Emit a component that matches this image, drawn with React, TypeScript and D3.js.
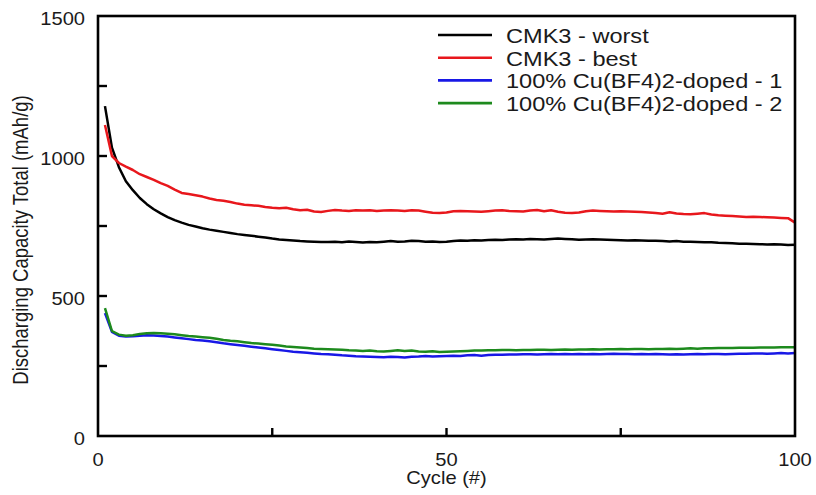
import React from "react";
import * as d3 from "d3";

const cycles: number[] = Array.from({ length: 100 }, (_, i) => i + 1);

const cmk3Worst: number[] = [
  1178, 1030, 960, 910, 878, 850, 828, 810, 795, 782,
  771, 762, 754, 748, 742, 737, 733, 729, 725, 721,
  718, 715, 712, 709, 705, 702, 700, 698, 696, 695,
  694, 693, 693, 694, 692, 695, 693, 691, 693, 692,
  694, 696, 694, 695, 697, 696, 694, 695, 693, 694,
  696, 698, 697, 699, 698, 700, 701, 700, 702, 703,
  702, 704, 703, 702, 704, 705, 704, 703, 701, 702,
  703, 702, 701, 700, 699, 698, 699, 698, 697, 697,
  696, 695, 696, 694, 694, 693, 692, 692, 690, 689,
  688, 687, 687, 686, 685, 684, 685, 684, 682, 683,
];

const cmk3Best: number[] = [
  1111, 1000, 975, 962, 950, 935, 925, 915, 903, 893,
  880, 868, 864, 860, 855, 848, 843, 840, 836, 830,
  826, 824, 822, 818, 815, 813, 815, 810, 806, 808,
  802, 800, 804, 807, 805, 804, 806, 805, 806, 804,
  805, 806, 805, 804, 806, 805, 801, 797, 796, 798,
  803, 804, 803, 802, 801, 803, 805, 806, 804, 803,
  802, 805, 807, 803, 806, 801, 797, 796, 798, 803,
  805, 804, 803, 802, 803, 802, 801, 800, 798, 796,
  794, 799, 795, 793, 792, 794, 796, 791, 788, 787,
  786, 784, 782, 783, 782, 781, 780, 779, 778, 762,
];

const doped1: number[] = [
  439, 372, 358, 355, 356, 358, 360, 359, 357, 355,
  352, 349, 346, 343, 341, 338, 335, 331, 328, 325,
  322, 319, 316, 313, 310, 307, 304, 301, 299, 297,
  295, 293, 292, 290, 288, 287, 285, 284, 283, 282,
  281, 283, 282, 280, 283, 284, 286, 284, 285, 286,
  287, 286, 288, 289, 287, 289, 290, 290, 291, 291,
  292, 292, 291, 292, 293, 292, 293, 292, 293, 292,
  293, 292, 293, 294, 293, 293, 292, 293, 292, 293,
  292, 291, 292, 291, 292, 293, 292, 293, 293, 292,
  293, 294, 294, 295, 295, 294, 295, 296, 295, 296,
];

const doped2: number[] = [
  457, 375, 362, 358, 360, 364, 367, 368, 367, 365,
  363, 360, 357, 355, 353, 351, 347, 343, 340, 338,
  335, 332, 330, 328, 326, 323, 320, 318, 316, 314,
  312, 311, 310, 309, 308, 306, 305, 304, 305, 303,
  302, 304, 306, 304, 305, 302, 301, 303, 300, 301,
  302, 303, 304, 305, 305, 306, 306, 307, 307, 306,
  307, 307, 308, 308, 307, 308, 309, 308, 309, 309,
  310, 309, 310, 310, 311, 310, 311, 311, 310, 311,
  311, 312, 311, 312, 313, 312, 313, 313, 314, 314,
  314, 315, 315, 315, 316, 316, 316, 317, 317, 317,
];

const seriesNames: string[] = [
  "CMK3 - worst",
  "CMK3 - best",
  "100% Cu(BF4)2-doped - 1",
  "100% Cu(BF4)2-doped - 2",
];
const seriesValues: number[][] = [cmk3Worst, cmk3Best, doped1, doped2];
const seriesColors: string[] = ["#000000", "#e8171c", "#1818e6", "#1d8a1d"];

const yTickLabels: number[] = [0, 500, 1000, 1500];
const yMinorTicks: number[] = [250, 500, 750, 1000, 1250];
const xTickLabels: number[] = [0, 50, 100];
const xMinorTicks: number[] = [25, 50, 75];

const W = 816;
const H = 495;
const M = { left: 98, right: 21, top: 16, bottom: 59 };
const SX = 1.15;
const FONT = "'Liberation Sans', Arial, Helvetica, sans-serif";
const TXT = "#1a1a1a";

export default function App() {
  const x = d3.scaleLinear().domain([0, 100]).range([M.left, W - M.right]);
  const y = d3.scaleLinear().domain([0, 1500]).range([H - M.bottom, M.top]);
  const line = d3
    .line<number>()
    .x((_, i) => x(cycles[i]))
    .y((d) => y(d));

  const x0 = x(0), x1 = x(100), y0 = y(0), y1 = y(1500);

  return (
    <svg width={W} height={H} style={{ position: "absolute", left: 0, top: 0, background: "#fff" }}>
      <rect x={0} y={0} width={W} height={H} fill="#fff" />
      {seriesValues.map((vals, k) => (
        <path
          key={k}
          d={line(vals) || ""}
          fill="none"
          stroke={seriesColors[k]}
          strokeWidth={2.5}
          strokeLinejoin="round"
        />
      ))}
      <rect x={x0} y={y1} width={x1 - x0} height={y0 - y1} fill="none" stroke="#000" strokeWidth={2.6} />
      {yMinorTicks.map((t) => (
        <line key={"yt" + t} x1={x0} x2={x0 + 9} y1={y(t)} y2={y(t)} stroke="#000" strokeWidth={2.4} />
      ))}
      {xMinorTicks.map((t) => (
        <line key={"xt" + t} x1={x(t)} x2={x(t)} y1={y0} y2={y0 - 8} stroke="#000" strokeWidth={2.4} />
      ))}
      {yTickLabels.map((t) => (
        <text
          key={"yl" + t}
          transform={`translate(${x0 - 13},${y(t) + 8.5}) scale(${SX},1)`}
          textAnchor="end"
          fontFamily={FONT}
          fontSize={17.5}
          fill={TXT}
        >
          {t}
        </text>
      ))}
      {xTickLabels.map((t) => (
        <text
          key={"xl" + t}
          transform={`translate(${x(t)},${y0 + 30}) scale(${SX},1)`}
          textAnchor="middle"
          fontFamily={FONT}
          fontSize={17.5}
          fill={TXT}
        >
          {t}
        </text>
      ))}
      <text
        transform={`translate(${(x0 + x1) / 2},${y0 + 48}) scale(${SX},1)`}
        textAnchor="middle"
        fontFamily={FONT}
        fontSize={17.5}
        fill={TXT}
      >
        Cycle (#)
      </text>
      <text
        transform={`translate(${28},${240}) scale(${SX},1) rotate(-90)`}
        textAnchor="middle"
        fontFamily={FONT}
        fontSize={18.5}
        fill={TXT}
      >
        Discharging Capacity Total (mAh/g)
      </text>
      {seriesNames.map((name, k) => {
        const by = 43 + k * 22.7;
        return (
          <g key={"lg" + k}>
            <line x1={438} x2={492} y1={by - 8} y2={by - 8} stroke={seriesColors[k]} strokeWidth={2.6} />
            <text
              transform={`translate(506,${by}) scale(${SX},1)`}
              fontFamily={FONT}
              fontSize={20.5}
              fill={TXT}
            >
              {name}
            </text>
          </g>
        );
      })}
    </svg>
  );
}
